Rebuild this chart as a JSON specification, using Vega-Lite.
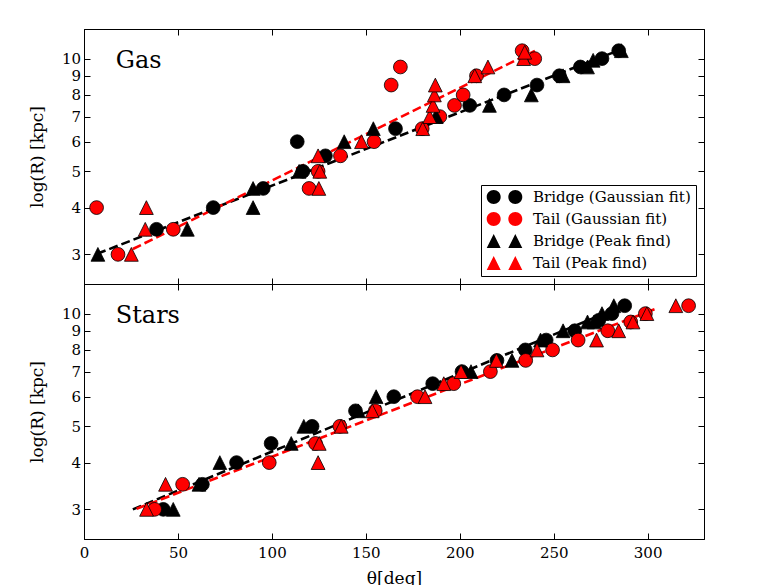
{
  "$schema": "https://vega.github.io/schema/vega-lite/v6.json",
  "padding": {"left": 27, "top": 28, "right": 0, "bottom": 0},
  "background": "white",
  "config": {
    "view": {"stroke": "black", "strokeWidth": 1},
    "font": "DejaVu Serif",
    "axis": {"grid": false, "domainColor": "black", "domainWidth": 1, "tickColor": "black", "tickWidth": 1, "tickSize": -6, "labelFont": "DejaVu Serif", "labelFontSize": 15, "labelColor": "black", "labelFlush": false, "labelOverlap": false, "titleFont": "DejaVu Serif", "titleFontSize": 17, "titleFontWeight": "normal", "titleColor": "black"},
    "axisX": {"labelPadding": 12, "titlePadding": 10},
    "axisY": {"labelPadding": 9.5, "titlePadding": 15}
  },
  "datasets": {
    "gas": [
      {"t": 38.6, "R": 3.5, "s": "Bridge (Gaussian fit)"},
      {"t": 68.8, "R": 4.0, "s": "Bridge (Gaussian fit)"},
      {"t": 95.4, "R": 4.5, "s": "Bridge (Gaussian fit)"},
      {"t": 113.5, "R": 6.0, "s": "Bridge (Gaussian fit)"},
      {"t": 116.5, "R": 5.0, "s": "Bridge (Gaussian fit)"},
      {"t": 128.5, "R": 5.5, "s": "Bridge (Gaussian fit)"},
      {"t": 165.8, "R": 6.5, "s": "Bridge (Gaussian fit)"},
      {"t": 205.3, "R": 7.5, "s": "Bridge (Gaussian fit)"},
      {"t": 223.6, "R": 8.0, "s": "Bridge (Gaussian fit)"},
      {"t": 241.1, "R": 8.5, "s": "Bridge (Gaussian fit)"},
      {"t": 253, "R": 9.0, "s": "Bridge (Gaussian fit)"},
      {"t": 264.2, "R": 9.5, "s": "Bridge (Gaussian fit)"},
      {"t": 275.7, "R": 10.0, "s": "Bridge (Gaussian fit)"},
      {"t": 284.6, "R": 10.5, "s": "Bridge (Gaussian fit)"},
      {"t": 6.7, "R": 4.0, "s": "Tail (Gaussian fit)"},
      {"t": 18.1, "R": 3.0, "s": "Tail (Gaussian fit)"},
      {"t": 47.5, "R": 3.5, "s": "Tail (Gaussian fit)"},
      {"t": 119.8, "R": 4.5, "s": "Tail (Gaussian fit)"},
      {"t": 124.6, "R": 5.0, "s": "Tail (Gaussian fit)"},
      {"t": 136.5, "R": 5.5, "s": "Tail (Gaussian fit)"},
      {"t": 154.4, "R": 6.0, "s": "Tail (Gaussian fit)"},
      {"t": 163.5, "R": 8.5, "s": "Tail (Gaussian fit)"},
      {"t": 168.4, "R": 9.5, "s": "Tail (Gaussian fit)"},
      {"t": 180, "R": 6.5, "s": "Tail (Gaussian fit)"},
      {"t": 189.4, "R": 7.0, "s": "Tail (Gaussian fit)"},
      {"t": 197.2, "R": 7.5, "s": "Tail (Gaussian fit)"},
      {"t": 201.8, "R": 8.0, "s": "Tail (Gaussian fit)"},
      {"t": 208.9, "R": 9.0, "s": "Tail (Gaussian fit)"},
      {"t": 233.2, "R": 10.5, "s": "Tail (Gaussian fit)"},
      {"t": 239.9, "R": 10.0, "s": "Tail (Gaussian fit)"},
      {"t": 7.4, "R": 3.0, "s": "Bridge (Peak find)"},
      {"t": 55, "R": 3.5, "s": "Bridge (Peak find)"},
      {"t": 90, "R": 4.5, "s": "Bridge (Peak find)"},
      {"t": 90, "R": 4.0, "s": "Bridge (Peak find)"},
      {"t": 114.5, "R": 5.0, "s": "Bridge (Peak find)"},
      {"t": 138.5, "R": 6.0, "s": "Bridge (Peak find)"},
      {"t": 154, "R": 6.5, "s": "Bridge (Peak find)"},
      {"t": 187.5, "R": 7.0, "s": "Bridge (Peak find)"},
      {"t": 215.8, "R": 7.5, "s": "Bridge (Peak find)"},
      {"t": 238.1, "R": 8.0, "s": "Bridge (Peak find)"},
      {"t": 255, "R": 9.0, "s": "Bridge (Peak find)"},
      {"t": 268, "R": 9.5, "s": "Bridge (Peak find)"},
      {"t": 271, "R": 9.9, "s": "Bridge (Peak find)"},
      {"t": 286, "R": 10.5, "s": "Bridge (Peak find)"},
      {"t": 25.2, "R": 3.0, "s": "Tail (Peak find)"},
      {"t": 32.6, "R": 3.5, "s": "Tail (Peak find)"},
      {"t": 33.2, "R": 4.0, "s": "Tail (Peak find)"},
      {"t": 125, "R": 4.5, "s": "Tail (Peak find)"},
      {"t": 125.5, "R": 5.0, "s": "Tail (Peak find)"},
      {"t": 124.6, "R": 5.5, "s": "Tail (Peak find)"},
      {"t": 147.7, "R": 6.0, "s": "Tail (Peak find)"},
      {"t": 180.3, "R": 6.5, "s": "Tail (Peak find)"},
      {"t": 184, "R": 7.0, "s": "Tail (Peak find)"},
      {"t": 185.8, "R": 7.5, "s": "Tail (Peak find)"},
      {"t": 186.5, "R": 8.0, "s": "Tail (Peak find)"},
      {"t": 187, "R": 8.5, "s": "Tail (Peak find)"},
      {"t": 208, "R": 9.0, "s": "Tail (Peak find)"},
      {"t": 215, "R": 9.5, "s": "Tail (Peak find)"},
      {"t": 234, "R": 10.0, "s": "Tail (Peak find)"},
      {"t": 234.6, "R": 10.4, "s": "Tail (Peak find)"}
    ],
    "stars": [
      {"t": 42.2, "R": 3.0, "s": "Bridge (Gaussian fit)"},
      {"t": 63, "R": 3.5, "s": "Bridge (Gaussian fit)"},
      {"t": 81.2, "R": 4.0, "s": "Bridge (Gaussian fit)"},
      {"t": 99.6, "R": 4.5, "s": "Bridge (Gaussian fit)"},
      {"t": 121.4, "R": 5.0, "s": "Bridge (Gaussian fit)"},
      {"t": 144.5, "R": 5.5, "s": "Bridge (Gaussian fit)"},
      {"t": 164.9, "R": 6.0, "s": "Bridge (Gaussian fit)"},
      {"t": 185.6, "R": 6.5, "s": "Bridge (Gaussian fit)"},
      {"t": 201.2, "R": 7.0, "s": "Bridge (Gaussian fit)"},
      {"t": 219.8, "R": 7.5, "s": "Bridge (Gaussian fit)"},
      {"t": 234.9, "R": 8.0, "s": "Bridge (Gaussian fit)"},
      {"t": 246, "R": 8.5, "s": "Bridge (Gaussian fit)"},
      {"t": 261.2, "R": 9.0, "s": "Bridge (Gaussian fit)"},
      {"t": 274, "R": 9.6, "s": "Bridge (Gaussian fit)"},
      {"t": 281, "R": 10.0, "s": "Bridge (Gaussian fit)"},
      {"t": 287.8, "R": 10.5, "s": "Bridge (Gaussian fit)"},
      {"t": 37.6, "R": 3.0, "s": "Tail (Gaussian fit)"},
      {"t": 52.5, "R": 3.5, "s": "Tail (Gaussian fit)"},
      {"t": 98.6, "R": 4.0, "s": "Tail (Gaussian fit)"},
      {"t": 123.2, "R": 4.5, "s": "Tail (Gaussian fit)"},
      {"t": 136.2, "R": 5.0, "s": "Tail (Gaussian fit)"},
      {"t": 155, "R": 5.5, "s": "Tail (Gaussian fit)"},
      {"t": 177.5, "R": 6.0, "s": "Tail (Gaussian fit)"},
      {"t": 196.8, "R": 6.5, "s": "Tail (Gaussian fit)"},
      {"t": 216.3, "R": 7.0, "s": "Tail (Gaussian fit)"},
      {"t": 235.1, "R": 7.5, "s": "Tail (Gaussian fit)"},
      {"t": 249.4, "R": 8.0, "s": "Tail (Gaussian fit)"},
      {"t": 263, "R": 8.5, "s": "Tail (Gaussian fit)"},
      {"t": 278.8, "R": 9.0, "s": "Tail (Gaussian fit)"},
      {"t": 291, "R": 9.5, "s": "Tail (Gaussian fit)"},
      {"t": 298.8, "R": 10.0, "s": "Tail (Gaussian fit)"},
      {"t": 321.8, "R": 10.5, "s": "Tail (Gaussian fit)"},
      {"t": 47.5, "R": 3.0, "s": "Bridge (Peak find)"},
      {"t": 61.2, "R": 3.5, "s": "Bridge (Peak find)"},
      {"t": 72.3, "R": 4.0, "s": "Bridge (Peak find)"},
      {"t": 110.3, "R": 4.5, "s": "Bridge (Peak find)"},
      {"t": 117, "R": 5.0, "s": "Bridge (Peak find)"},
      {"t": 146, "R": 5.5, "s": "Bridge (Peak find)"},
      {"t": 155.5, "R": 6.0, "s": "Bridge (Peak find)"},
      {"t": 206, "R": 7.0, "s": "Bridge (Peak find)"},
      {"t": 227.8, "R": 7.5, "s": "Bridge (Peak find)"},
      {"t": 243, "R": 8.5, "s": "Bridge (Peak find)"},
      {"t": 255, "R": 9.0, "s": "Bridge (Peak find)"},
      {"t": 268, "R": 9.5, "s": "Bridge (Peak find)"},
      {"t": 271.5, "R": 9.5, "s": "Bridge (Peak find)"},
      {"t": 275.7, "R": 10.0, "s": "Bridge (Peak find)"},
      {"t": 282, "R": 10.5, "s": "Bridge (Peak find)"},
      {"t": 33.3, "R": 3.0, "s": "Tail (Peak find)"},
      {"t": 43.4, "R": 3.5, "s": "Tail (Peak find)"},
      {"t": 124.6, "R": 4.0, "s": "Tail (Peak find)"},
      {"t": 125.2, "R": 4.5, "s": "Tail (Peak find)"},
      {"t": 136.9, "R": 5.0, "s": "Tail (Peak find)"},
      {"t": 153.4, "R": 5.5, "s": "Tail (Peak find)"},
      {"t": 181.5, "R": 6.0, "s": "Tail (Peak find)"},
      {"t": 191.5, "R": 6.5, "s": "Tail (Peak find)"},
      {"t": 200.7, "R": 7.0, "s": "Tail (Peak find)"},
      {"t": 219.5, "R": 7.5, "s": "Tail (Peak find)"},
      {"t": 241.1, "R": 8.0, "s": "Tail (Peak find)"},
      {"t": 272.8, "R": 8.5, "s": "Tail (Peak find)"},
      {"t": 284.6, "R": 9.0, "s": "Tail (Peak find)"},
      {"t": 292.2, "R": 9.5, "s": "Tail (Peak find)"},
      {"t": 299.6, "R": 10.0, "s": "Tail (Peak find)"},
      {"t": 315, "R": 10.5, "s": "Tail (Peak find)"}
    ],
    "gasfit": [
      {"t": 7, "R": 3.01, "s": "Bridge"},
      {"t": 285, "R": 10.54, "s": "Bridge"},
      {"t": 26, "R": 3.10, "s": "Tail"},
      {"t": 240, "R": 10.49, "s": "Tail"}
    ],
    "starsfit": [
      {"t": 26, "R": 3.00, "s": "Bridge"},
      {"t": 288, "R": 10.55, "s": "Bridge"},
      {"t": 28, "R": 3.01, "s": "Tail"},
      {"t": 305, "R": 10.33, "s": "Tail"}
    ]
  },
  "spacing": 0,
  "bounds": "flush",
  "resolve": {"scale": {"fill": "independent", "shape": "independent", "stroke": "independent"}},
  "vconcat": [
    {
      "width": 620,
      "height": 255,
      "layer": [
        {
          "data": {"name": "gasfit"},
          "mark": {"type": "line", "strokeDash": [9, 4], "strokeWidth": 2.6},
          "encoding": {
            "x": {"field": "t", "type": "quantitative", "scale": {"domain": [0, 330], "nice": false, "zero": false}, "axis": {"orient": "top", "labels": false, "title": null, "values": [0, 50, 100, 150, 200, 250, 300]}},
            "y": {"field": "R", "type": "quantitative", "scale": {"type": "log", "domain": [2.5, 12], "nice": false}, "axis": {"orient": "right", "labels": false, "title": null, "values": [3, 4, 5, 6, 7, 8, 9, 10]}},
            "stroke": {"field": "s", "type": "nominal", "scale": {"domain": ["Bridge", "Tail"], "range": ["black", "red"]}, "legend": null}
          }
        },
        {
          "data": {"name": "gas"},
          "mark": {"type": "point", "filled": true, "opacity": 1, "stroke": "black", "strokeWidth": 0.8, "size": 190},
          "encoding": {
            "x": {"field": "t", "type": "quantitative", "scale": {"domain": [0, 330], "nice": false, "zero": false}, "axis": {"orient": "bottom", "labels": false, "title": null, "values": [0, 50, 100, 150, 200, 250, 300]}},
            "y": {"field": "R", "type": "quantitative", "scale": {"type": "log", "domain": [2.5, 12], "nice": false}, "axis": {"orient": "left", "title": "log(R) [kpc]", "format": "d", "values": [3, 4, 5, 6, 7, 8, 9, 10]}},
            "fill": {"field": "s", "type": "nominal", "scale": {"domain": ["Bridge (Gaussian fit)", "Tail (Gaussian fit)", "Bridge (Peak find)", "Tail (Peak find)"], "range": ["black", "red", "black", "red"]}, "legend": null},
            "shape": {"field": "s", "type": "nominal", "scale": {"domain": ["Bridge (Gaussian fit)", "Tail (Gaussian fit)", "Bridge (Peak find)", "Tail (Peak find)"], "range": ["circle", "circle", "M0,-1L-1,1L1,1Z", "M0,-1L-1,1L1,1Z"]}, "legend": null}
          }
        },
        {
          "data": {"values": [{}]},
          "mark": {"type": "text", "font": "DejaVu Serif", "fontSize": 24, "align": "left", "baseline": "alphabetic", "color": "black"},
          "encoding": {
            "x": {"datum": 16.9, "type": "quantitative", "axis": null},
            "y": {"datum": 9.44, "type": "quantitative", "axis": null},
            "text": {"value": "Gas"}
          }
        },
        {
          "data": {"name": "gas"},
          "mark": {"type": "point", "filled": true, "opacity": 0, "stroke": "black", "strokeWidth": 0.8},
          "encoding": {
            "x": {"field": "t", "type": "quantitative", "axis": null},
            "y": {"field": "R", "type": "quantitative", "axis": null},
            "fill": {"field": "s", "type": "nominal", "scale": {"domain": ["Bridge (Gaussian fit)", "Tail (Gaussian fit)", "Bridge (Peak find)", "Tail (Peak find)"], "range": ["black", "red", "black", "red"]},
              "legend": {"title": null, "orient": "bottom-right", "offset": 8, "padding": 5, "strokeColor": "black", "fillColor": "white", "cornerRadius": 0, "labelFont": "DejaVu Serif", "labelFontSize": 15, "labelColor": "black", "labelOffset": 10, "labelLimit": 400, "symbolSize": 1267, "symbolOpacity": 1, "symbolStrokeColor": "black", "symbolStrokeWidth": 0.8, "rowPadding": 7, "clipHeight": 14, "symbolOffset": 0}},
            "shape": {"field": "s", "type": "nominal", "scale": {"domain": ["Bridge (Gaussian fit)", "Tail (Gaussian fit)", "Bridge (Peak find)", "Tail (Peak find)"], "range": ["M-0.214,0A0.393,0.393,0,1,1,-1,0A0.393,0.393,0,1,1,-0.214,0ZM1,0A0.393,0.393,0,1,1,0.214,0A0.393,0.393,0,1,1,1,0Z", "M-0.214,0A0.393,0.393,0,1,1,-1,0A0.393,0.393,0,1,1,-0.214,0ZM1,0A0.393,0.393,0,1,1,0.214,0A0.393,0.393,0,1,1,1,0Z", "M-0.607,-0.393L-1,0.393L-0.214,0.393ZM0.607,-0.393L0.214,0.393L1,0.393Z", "M-0.607,-0.393L-1,0.393L-0.214,0.393ZM0.607,-0.393L0.214,0.393L1,0.393Z"]},
              "legend": {"title": null, "orient": "bottom-right", "offset": 8, "padding": 5, "strokeColor": "black", "fillColor": "white", "cornerRadius": 0, "labelFont": "DejaVu Serif", "labelFontSize": 15, "labelColor": "black", "labelOffset": 10, "labelLimit": 400, "symbolSize": 1267, "symbolOpacity": 1, "symbolStrokeColor": "black", "symbolStrokeWidth": 0.8, "rowPadding": 7, "clipHeight": 14, "symbolOffset": 0}}
          }
        }
      ],
      "resolve": {"axis": {"x": "independent", "y": "independent"}, "scale": {"fill": "independent", "shape": "independent"}}
    },
    {
      "width": 620,
      "height": 255,
      "layer": [
        {
          "data": {"name": "starsfit"},
          "mark": {"type": "line", "strokeDash": [9, 4], "strokeWidth": 2.6},
          "encoding": {
            "x": {"field": "t", "type": "quantitative", "scale": {"domain": [0, 330], "nice": false, "zero": false}, "axis": {"orient": "top", "labels": false, "title": null, "values": [0, 50, 100, 150, 200, 250, 300]}},
            "y": {"field": "R", "type": "quantitative", "scale": {"type": "log", "domain": [2.5, 12], "nice": false}, "axis": {"orient": "right", "labels": false, "title": null, "values": [3, 4, 5, 6, 7, 8, 9, 10]}},
            "stroke": {"field": "s", "type": "nominal", "scale": {"domain": ["Bridge", "Tail"], "range": ["black", "red"]}, "legend": null}
          }
        },
        {
          "data": {"name": "stars"},
          "mark": {"type": "point", "filled": true, "opacity": 1, "stroke": "black", "strokeWidth": 0.8, "size": 190},
          "encoding": {
            "x": {"field": "t", "type": "quantitative", "scale": {"domain": [0, 330], "nice": false, "zero": false}, "axis": {"orient": "bottom", "title": "θ[deg]", "format": "d", "values": [0, 50, 100, 150, 200, 250, 300]}},
            "y": {"field": "R", "type": "quantitative", "scale": {"type": "log", "domain": [2.5, 12], "nice": false}, "axis": {"orient": "left", "title": "log(R) [kpc]", "format": "d", "values": [3, 4, 5, 6, 7, 8, 9, 10]}},
            "fill": {"field": "s", "type": "nominal", "scale": {"domain": ["Bridge (Gaussian fit)", "Tail (Gaussian fit)", "Bridge (Peak find)", "Tail (Peak find)"], "range": ["black", "red", "black", "red"]}, "legend": null},
            "shape": {"field": "s", "type": "nominal", "scale": {"domain": ["Bridge (Gaussian fit)", "Tail (Gaussian fit)", "Bridge (Peak find)", "Tail (Peak find)"], "range": ["circle", "circle", "M0,-1L-1,1L1,1Z", "M0,-1L-1,1L1,1Z"]}, "legend": null}
          }
        },
        {
          "data": {"values": [{}]},
          "mark": {"type": "text", "font": "DejaVu Serif", "fontSize": 24, "align": "left", "baseline": "alphabetic", "color": "black"},
          "encoding": {
            "x": {"datum": 16.9, "type": "quantitative", "axis": null},
            "y": {"datum": 9.44, "type": "quantitative", "axis": null},
            "text": {"value": "Stars"}
          }
        }
      ],
      "resolve": {"axis": {"x": "independent", "y": "independent"}}
    }
  ]
}
